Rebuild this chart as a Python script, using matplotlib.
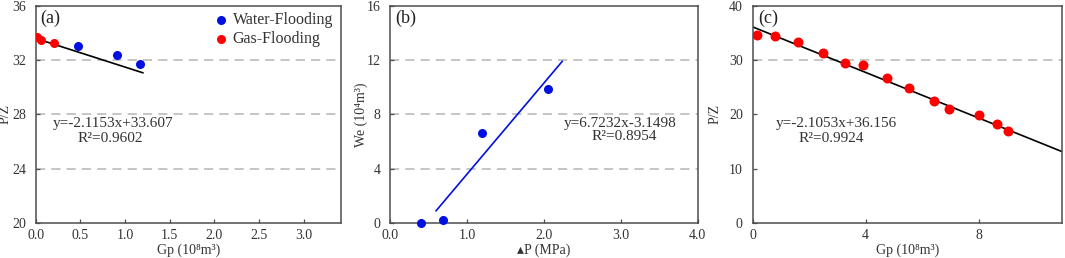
import numpy as np
import matplotlib.pyplot as plt

plt.rcParams['font.family'] = ['Liberation Serif', 'DejaVu Sans']

# (a) P/Z vs Gp
gp_gas = [0.01, 0.06, 0.20]
pz_gas = [33.7, 33.5, 33.24]
gp_water = [0.47, 0.91, 1.17]
pz_water = [33.08, 32.4, 31.7]
fit_a = (-2.1153, 33.607)
fit_a_x = [0.0, 1.2]

# (b) We vs dP
dp = [0.40, 0.69, 1.20, 2.05]
we = [0.0, 0.2, 6.6, 9.85]
fit_b = (6.7232, -3.1498)
fit_b_x = [0.6, 2.24]

# (c) P/Z vs Gp, gas flooding
gp_c = [0.17, 0.81, 1.60, 2.48, 3.26, 3.90, 4.75, 5.54, 6.40, 6.94, 8.00, 8.64, 9.02]
pz_c = [34.7, 34.55, 33.4, 31.3, 29.45, 29.2, 26.7, 24.9, 22.4, 21.0, 19.9, 18.2, 16.9]
fit_c = (-2.1053, 36.156)
fit_c_x = [0.0, 10.95]

spine_c = '#4d4d4d'
text_c = '#333333'
grid_c = '#b5b5b5'
fs = 10
fs_tick = 10
fs_eq = 11

fig = plt.figure(figsize=(10.65, 2.58), dpi=100)
W, H = 1065, 258


def make_ax(l, r, t, b):
    ax = fig.add_axes([l / W, 1 - b / H, (r - l) / W, (b - t) / H])
    for s in ax.spines.values():
        s.set_color(spine_c)
        s.set_linewidth(1.1)
    ax.tick_params(direction='in', length=3, width=0.9, colors=spine_c,
                   labelcolor=text_c, labelsize=fs_tick)
    ax.tick_params(axis='x', pad=4.5)
    ax.tick_params(axis='y', pad=7)
    return ax


def hgrid(ax, ys):
    for y in ys:
        ax.axhline(y, color=grid_c, lw=1.1, ls=(0, (6, 4)), zorder=0)


# ---- (a)
ax = make_ax(35.7, 341, 6, 222.7)
ax.set_xlim(0, 3.42)
ax.set_ylim(20, 36)
ax.set_xticks(np.arange(0, 3.01, 0.5))
ax.set_xticklabels([f'{v:.1f}' for v in np.arange(0, 3.01, 0.5)])
ax.set_yticks([20, 24, 28, 32, 36])
hgrid(ax, [24, 28, 32])
xx = np.array(fit_a_x)
ax.plot(xx, fit_a[0] * xx + fit_a[1], color='black', lw=1.2, zorder=2)
ax.scatter(gp_water, pz_water, s=30, color='#0010e0', zorder=3, label='Water-Flooding')
ax.scatter(gp_gas, pz_gas, s=30, color='#ff0000', zorder=3, label='Gas-Flooding')
ax.legend(loc='upper right', frameon=False, fontsize=11.5, handletextpad=0.3,
          handlelength=0.8, borderaxespad=0.1, labelspacing=0.2,
          labelcolor=text_c, bbox_to_anchor=(1.0, 1.01))
ax.text(0.014, 0.945, '(a)', transform=ax.transAxes, fontsize=13, color='#222222', va='center')
ax.text(0.87, 27.3, 'y=-2.1153x+33.607', ha='center', va='center', fontsize=fs_eq, color=text_c)
ax.text(0.83, 26.25, 'R²=0.9602', ha='center', va='center', fontsize=fs_eq, color=text_c)
ax.set_xlabel('Gp (10⁸m³)', fontsize=fs, color=text_c, labelpad=1)
ax.set_ylabel('P/Z', fontsize=fs, color=text_c)
ax.yaxis.set_label_coords(-0.078, 0.5)

# ---- (b)
ax = make_ax(390, 697.5, 6, 222.7)
ax.set_xlim(0, 4)
ax.set_ylim(0, 16)
ax.set_xticks([0, 1, 2, 3, 4])
ax.set_xticklabels(['0.0', '1.0', '2.0', '3.0', '4.0'])
ax.set_yticks([0, 4, 8, 12, 16])
hgrid(ax, [4, 8, 12])
xx = np.array(fit_b_x)
ax.plot(xx, fit_b[0] * xx + fit_b[1], color='#0010e0', lw=1.2, zorder=2)
ax.scatter(dp, we, s=30, color='#0010e0', zorder=3, clip_on=False)
ax.text(0.016, 0.945, '(b)', transform=ax.transAxes, fontsize=13, color='#222222', va='center')
ax.text(3.0, 7.36, 'y=6.7232x-3.1498', ha='center', va='center', fontsize=fs_eq, color=text_c)
ax.text(3.05, 6.33, 'R²=0.8954', ha='center', va='center', fontsize=fs_eq, color=text_c)
ax.set_xlabel('▴P (MPa)', fontsize=fs, color=text_c, labelpad=1)
ax.set_ylabel('We (10⁴m³)', fontsize=fs, color=text_c)
ax.yaxis.set_label_coords(-0.071, 0.5)

# ---- (c)
ax = make_ax(752.5, 1062.3, 6, 222.7)
ax.set_xlim(0, 10.95)
ax.set_ylim(0, 40)
ax.set_xticks([0, 4, 8])
ax.set_yticks([0, 10, 20, 30, 40])
hgrid(ax, [30])
xx = np.array(fit_c_x)
ax.plot(xx, fit_c[0] * xx + fit_c[1], color='black', lw=1.2, zorder=2)
ax.scatter(gp_c, pz_c, s=38, color='#ff0000', zorder=3)
ax.text(0.018, 0.945, '(c)', transform=ax.transAxes, fontsize=13, color='#222222', va='center')
ax.text(2.96, 18.4, 'y=-2.1053x+36.156', ha='center', va='center', fontsize=fs_eq, color=text_c)
ax.text(2.78, 15.6, 'R²=0.9924', ha='center', va='center', fontsize=fs_eq, color=text_c)
ax.set_xlabel('Gp (10⁸m³)', fontsize=fs, color=text_c, labelpad=1)
ax.set_ylabel('P/Z', fontsize=fs, color=text_c)
ax.yaxis.set_label_coords(-0.099, 0.5)

fig.savefig('out.png', dpi=100)
